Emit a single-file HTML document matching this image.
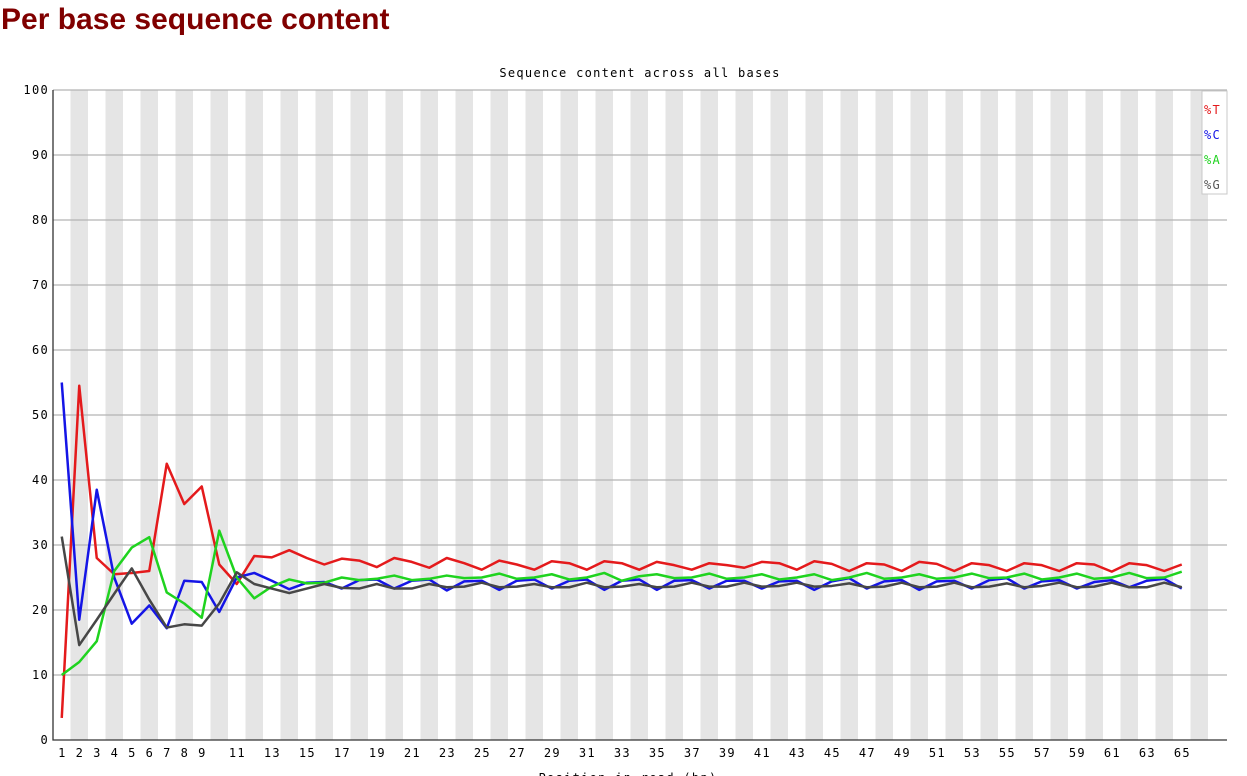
<!DOCTYPE html>
<html><head><meta charset="utf-8"><style>
body{margin:0;background:#fff;width:1247px;height:776px;overflow:hidden;}
h2{position:absolute;left:1px;top:3px;margin:0;font:bold 30px "Liberation Sans",sans-serif;color:#800000;}
svg{position:absolute;left:0;top:0;}
text{font-family:"DejaVu Sans Mono","Liberation Mono",monospace;font-size:12px;letter-spacing:1.3px;}
</style></head><body>
<h2>Per base sequence content</h2>
<svg id="c" width="1247" height="776"></svg>
<script>
const positions=[];for(let i=1;i<=65;i++)positions.push(i);
const xTickLabels=[1,2,3,4,5,6,7,8,9,11,13,15,17,19,21,23,25,27,29,31,33,35,37,39,41,43,45,47,49,51,53,55,57,59,61,63,65];
const yTicks=[0,10,20,30,40,50,60,70,80,90,100];
const seriesT=[3.4,54.5,28,25.5,25.7,26,42.5,36.3,39,27,24,28.3,28.1,29.2,28,27,27.9,27.6,26.6,28,27.4,26.5,28,27.2,26.2,27.6,27,26.2,27.5,27.2,26.2,27.5,27.2,26.2,27.4,26.9,26.2,27.2,26.9,26.5,27.4,27.2,26.2,27.5,27.1,26,27.2,27,26,27.4,27.1,26,27.2,26.9,26,27.2,26.9,26,27.2,27,25.9,27.2,26.9,26,27];
const seriesC=[55,18.5,38.5,25,17.9,20.7,17.2,24.5,24.3,19.7,25,25.7,24.5,23.2,24.2,24.3,23.3,24.6,24.7,23.3,24.5,24.7,23,24.4,24.5,23.1,24.5,24.7,23.3,24.5,24.7,23.1,24.5,24.7,23.1,24.5,24.6,23.3,24.5,24.5,23.3,24.4,24.5,23.1,24.4,24.9,23.3,24.4,24.6,23.1,24.4,24.5,23.3,24.6,24.9,23.3,24.4,24.6,23.3,24.3,24.6,23.5,24.5,24.8,23.3];
const seriesA=[10,12,15.2,26,29.6,31.2,22.7,21,18.8,32.2,25,21.8,23.6,24.7,24.1,24.2,25,24.6,24.8,25.3,24.6,24.8,25.3,24.9,25,25.6,24.8,25,25.5,24.7,25,25.7,24.5,25.2,25.5,24.9,25,25.6,24.8,25,25.5,24.7,25,25.5,24.6,25,25.7,24.8,25,25.5,24.8,25,25.6,24.9,25,25.6,24.7,25,25.6,24.8,25,25.7,24.9,25,25.9];
const seriesG=[31.3,14.6,18.5,22.5,26.4,21.6,17.3,17.8,17.6,21,25.8,24,23.3,22.6,23.3,24,23.4,23.3,24,23.3,23.3,24,23.5,23.6,24.2,23.5,23.6,24,23.5,23.5,24.2,23.5,23.6,24,23.5,23.6,24.2,23.6,23.6,24.2,23.6,23.7,24.2,23.6,23.7,24.1,23.5,23.6,24.2,23.5,23.6,24.2,23.5,23.6,24.1,23.5,23.7,24.2,23.5,23.6,24.2,23.5,23.5,24.2,23.5];
const L=53,R=1227,T=90,B=740,CW=17.5;
const x=p=>L+(p-0.5)*CW, y=v=>B-(v/100)*(B-T);
const svg=document.getElementById('c');const NS='http://www.w3.org/2000/svg';
function mk(t,a,p){const e=document.createElementNS(NS,t);for(const k in a)e.setAttribute(k,a[k]);(p||svg).appendChild(e);return e;}
for(let c=2;c<=67;c+=2){const r=mk('rect',{x:L+(c-1)*CW,y:T,width:CW,height:B-T,fill:'#e5e5e5'});

}
yTicks.forEach(v=>{if(v>0){const g=mk('line',{x1:L,x2:R,y1:y(v),y2:y(v),stroke:'#b4b4b4','stroke-width':1.3});

}
const t=mk('text',{x:49,y:y(v)+4,'text-anchor':'end',fill:'#000'});t.textContent=v;

});
const ax=mk('path',{d:`M${L},${T} V${B} H${R}`,stroke:'#333',fill:'none','stroke-width':1.3});


xTickLabels.forEach(p=>{const t=mk('text',{x:x(p)+0.7,y:757,'text-anchor':'middle'});t.textContent=p;

});
const ct=mk('text',{x:640,y:77,'text-anchor':'middle'});ct.textContent='Sequence content across all bases';


const xt=mk('text',{x:628,y:782,'text-anchor':'middle'});xt.textContent='Position in read (bp)';


[[seriesT,'#e41a1c','series-t'],[seriesC,'#1515e6','series-c'],[seriesA,'#1fd31f','series-a'],[seriesG,'#474747','series-g']].forEach(([s,col,n])=>{
const pl=mk('polyline',{points:s.map((v,i)=>x(positions[i])+','+y(v)).join(' '),fill:'none',stroke:col,'stroke-width':2.5,'stroke-linejoin':'round'});

});
const lg=mk('g',{});


mk('rect',{x:1202,y:91,width:25,height:103,fill:'#fff',stroke:'#c8c8c8'},lg);
[['%T','#e41a1c'],['%C','#1515e6'],['%A','#1fd31f'],['%G','#555']].forEach(([l,c],i)=>{
const t=mk('text',{x:1204,y:114+i*25,fill:c,'letter-spacing':0},lg);t.textContent=l;

});
</script>
</body></html>
